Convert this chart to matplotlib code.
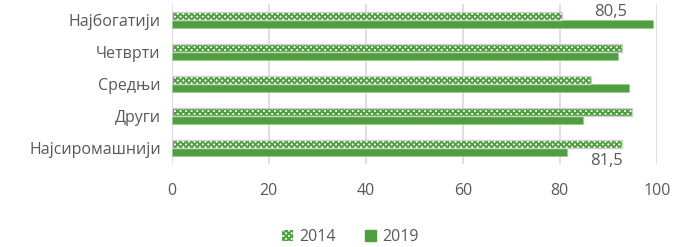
import matplotlib.pyplot as plt
import numpy as np
from matplotlib.patches import Patch

# Podaci
kategorije = ['Најбогатији', 'Четврти', 'Средњи', 'Други', 'Најсиромашнији']
god_2014 = [80.5, 92.8, 86.5, 94.8, 92.8]
god_2019 = [99.2, 92.0, 94.2, 84.7, 81.5]
oznake = ['80,5', '81,5']

zelena = '#4E9F3D'
siva = '#595959'

plt.rcParams['font.family'] = ['Open Sans', 'DejaVu Sans']
plt.rcParams['hatch.linewidth'] = 1.4

fig = plt.figure(figsize=(6.9, 2.47), dpi=100)
ax = fig.add_axes([0.249, 0.336, 0.703, 0.648])

y = np.arange(len(kategorije))
h = 0.26

# 2014 - sahovnica
ax.barh(y - h / 2, god_2014, height=h, color='white', edgecolor=zelena,
        hatch='xxxxxx', linewidth=0, zorder=3)
ax.barh(y - h / 2, god_2014, height=h, fill=False, edgecolor='#D0D0D0',
        linewidth=1, zorder=4)
ax.barh(y + h / 2, god_2019, height=h, color=zelena, edgecolor='#9CCB8F',
        linewidth=0.5, zorder=3)

# oznake vrednosti
ax.text(90.4, -0.25, oznake[0], ha='center', va='center', fontsize=12,
        color=siva, zorder=5)
ax.text(89.7, 4.42, oznake[1], ha='center', va='center', fontsize=12,
        color=siva, zorder=5)

ax.set_xlim(0, 100)
ax.set_ylim(4.5, -0.5)
ax.set_xticks(np.arange(0, 101, 20))
ax.set_yticks(y)
ax.set_yticklabels(kategorije)
ax.tick_params(length=0, labelsize=11.5, colors=siva, pad=8)
ax.tick_params(axis='x', pad=14)
ax.xaxis.grid(True, color='#D9D9D9', linewidth=1.2)
ax.set_axisbelow(True)
for s in ax.spines.values():
    s.set_visible(False)

# legenda
rucke = [Patch(facecolor='white', edgecolor=zelena, hatch='xxxxxx', linewidth=0),
         Patch(facecolor=zelena, edgecolor=zelena)]
leg = fig.legend(rucke, ['2014', '2019'], loc='center', bbox_to_anchor=(0.508, 0.04),
                 ncol=2, frameon=False, fontsize=11.5, handlelength=0.7,
                 handleheight=0.7, columnspacing=1.8, handletextpad=0.4)
for t in leg.get_texts():
    t.set_color(siva)

fig.savefig('out.png', dpi=100)
